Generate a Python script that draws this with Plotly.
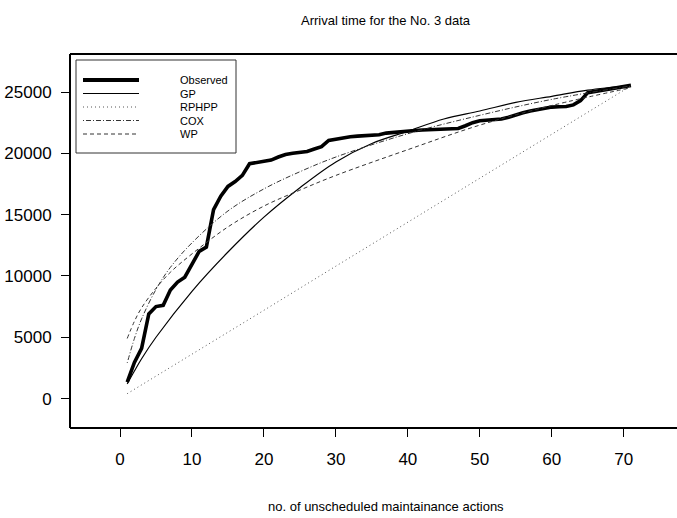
import plotly.graph_objects as go

# ---- data -------------------------------------------------------------
actions = list(range(1, 72))
observed = [1350, 2950, 4100, 6900, 7500, 7600, 8850, 9500, 9900, 11000,
            12000, 12350, 15400, 16500, 17300, 17700, 18200, 19150, 19250, 19350,
            19450, 19700, 19900, 20000, 20050, 20150, 20350, 20550, 21050, 21150,
            21300, 21350, 21400, 21430, 21480, 21510, 21650, 21720, 21780, 21830,
            21860, 21900, 21940, 21970, 21990, 22010, 22030, 22250, 22500, 22650,
            22690, 22720, 22800, 22950, 23150, 23300, 23450, 23550, 23680, 23770,
            23800, 23820, 23950, 24300, 24950, 25050, 25150, 25250, 25400, 25500,
            25540]

gp_x = [1, 2, 3, 5, 10, 15, 20, 25, 30, 35, 40, 45, 50, 55, 60, 65, 71]
gp_y = [1200, 2250, 3250, 5000, 8750, 11950, 14800, 17200, 19300, 20800,
        21800, 22800, 23450, 24150, 24650, 25150, 25550]

rphpp_x = [1, 10, 20, 30, 40, 50, 60, 71]
rphpp_y = [400, 3650, 7200, 10800, 14400, 17950, 21550, 25500]

cox_x = [1, 2, 3, 5, 7, 10, 15, 20, 25, 30, 40, 50, 60, 71]
cox_y = [2900, 4900, 6500, 8900, 10700, 12700, 15300, 17100, 18500, 19700,
         21600, 23100, 24400, 25500]

wp_x = [1, 2, 3, 5, 7, 10, 15, 20, 25, 30, 40, 50, 60, 71]
wp_y = [4900, 6300, 7400, 9000, 10300, 11800, 14000, 15700, 17000, 18200,
        20300, 22300, 23900, 25350]

x_ticks = [0, 10, 20, 30, 40, 50, 60, 70]
y_ticks = [0, 5000, 10000, 15000, 20000, 25000]

series_names = ["Observed", "GP", "RPHPP", "COX", "WP"]

# ---- styles -------------------------------------------------------------
FONT = "Liberation Sans, Arial, Helvetica, sans-serif"
W, H = 677, 518
L, R, T, B = 70, 677, 54, 428          # plot-area pixel edges
styles = {
    "Observed": dict(color="black", width=3.6, dash="solid"),
    "GP": dict(color="black", width=1.2, dash="solid"),
    "RPHPP": dict(color="#555555", width=1, dash="1px,3px"),
    "COX": dict(color="#333333", width=1, dash="1px,2px,5px,2px"),
    "WP": dict(color="#333333", width=1, dash="4px,3px"),
}

fig = go.Figure()
fig.add_trace(go.Scatter(x=actions, y=observed, mode="lines",
                         line=styles["Observed"], name="Observed"))
fig.add_trace(go.Scatter(x=gp_x, y=gp_y, mode="lines", line_shape="spline",
                         line=styles["GP"], name="GP"))
fig.add_trace(go.Scatter(x=rphpp_x, y=rphpp_y, mode="lines",
                         line=styles["RPHPP"], name="RPHPP"))
fig.add_trace(go.Scatter(x=cox_x, y=cox_y, mode="lines", line_shape="spline",
                         line=styles["COX"], name="COX"))
fig.add_trace(go.Scatter(x=wp_x, y=wp_y, mode="lines", line_shape="spline",
                         line=styles["WP"], name="WP"))


def px_x(p):
    return (p - L) / (R - L)


def px_y(p):
    return (B - p) / (B - T)


# ---- hand-built legend box ---------------------------------------------
shapes = [dict(type="rect", xref="paper", yref="paper",
               x0=px_x(76), x1=px_x(236), y0=px_y(60), y1=px_y(153),
               line=dict(color="#333333", width=1), fillcolor="white", layer="above")]
annotations = []
row_y = [80, 93.5, 107, 120.5, 134]
for name, yy in zip(series_names, row_y):
    st = styles[name]
    shapes.append(dict(type="line", xref="paper", yref="paper",
                       x0=px_x(83), x1=px_x(139), y0=px_y(yy), y1=px_y(yy),
                       line=dict(color=st["color"],
                                 width=4 if name == "Observed" else st["width"],
                                 dash=st["dash"]), layer="above"))
    annotations.append(dict(text=name, xref="paper", yref="paper",
                            x=px_x(178), y=px_y(yy), xanchor="left", yanchor="middle",
                            showarrow=False, font=dict(family=FONT, size=11, color="black")))

# frame: left, top, bottom (right edge falls outside the page)
shapes.append(dict(type="line", xref="paper", yref="paper", x0=0, x1=1.02, y0=1, y1=1,
                   line=dict(color="black", width=2)))
shapes.append(dict(type="line", xref="paper", yref="paper", x0=0, x1=1.02, y0=0, y1=0,
                   line=dict(color="black", width=2)))
shapes.append(dict(type="line", xref="paper", yref="paper", x0=0, x1=0, y0=0, y1=1,
                   line=dict(color="black", width=2)))

# title and x-axis label centred over the full frame
annotations.append(dict(text="Arrival time for the No. 3 data", xref="paper", yref="paper",
                        x=px_x(386), y=px_y(20), xanchor="center", yanchor="middle",
                        showarrow=False, font=dict(family=FONT, size=13, color="black")))
annotations.append(dict(text="no. of unscheduled maintainance actions", xref="paper",
                        yref="paper", x=px_x(386), y=px_y(506), xanchor="center",
                        yanchor="middle", showarrow=False,
                        font=dict(family=FONT, size=13, color="black")))

fig.update_layout(
    width=W, height=H,
    margin=dict(l=L, r=W - R, t=T, b=H - B, pad=0),
    paper_bgcolor="white", plot_bgcolor="white",
    showlegend=False,
    shapes=shapes, annotations=annotations,
    xaxis=dict(range=[-6.95, 77.4], tickvals=x_ticks, ticks="outside", ticklen=8,
               tickwidth=1, tickcolor="black", showgrid=False, zeroline=False,
               showline=False, ticklabelstandoff=8,
               tickfont=dict(family=FONT, size=17, color="black")),
    yaxis=dict(range=[-2400, 28100], tickvals=y_ticks, tickformat="d",
               ticks="outside", ticklen=8,
               tickwidth=1, tickcolor="black", showgrid=False, zeroline=False,
               showline=False, ticklabelstandoff=6,
               tickfont=dict(family=FONT, size=17, color="black")),
)

fig.write_html("out.html")
